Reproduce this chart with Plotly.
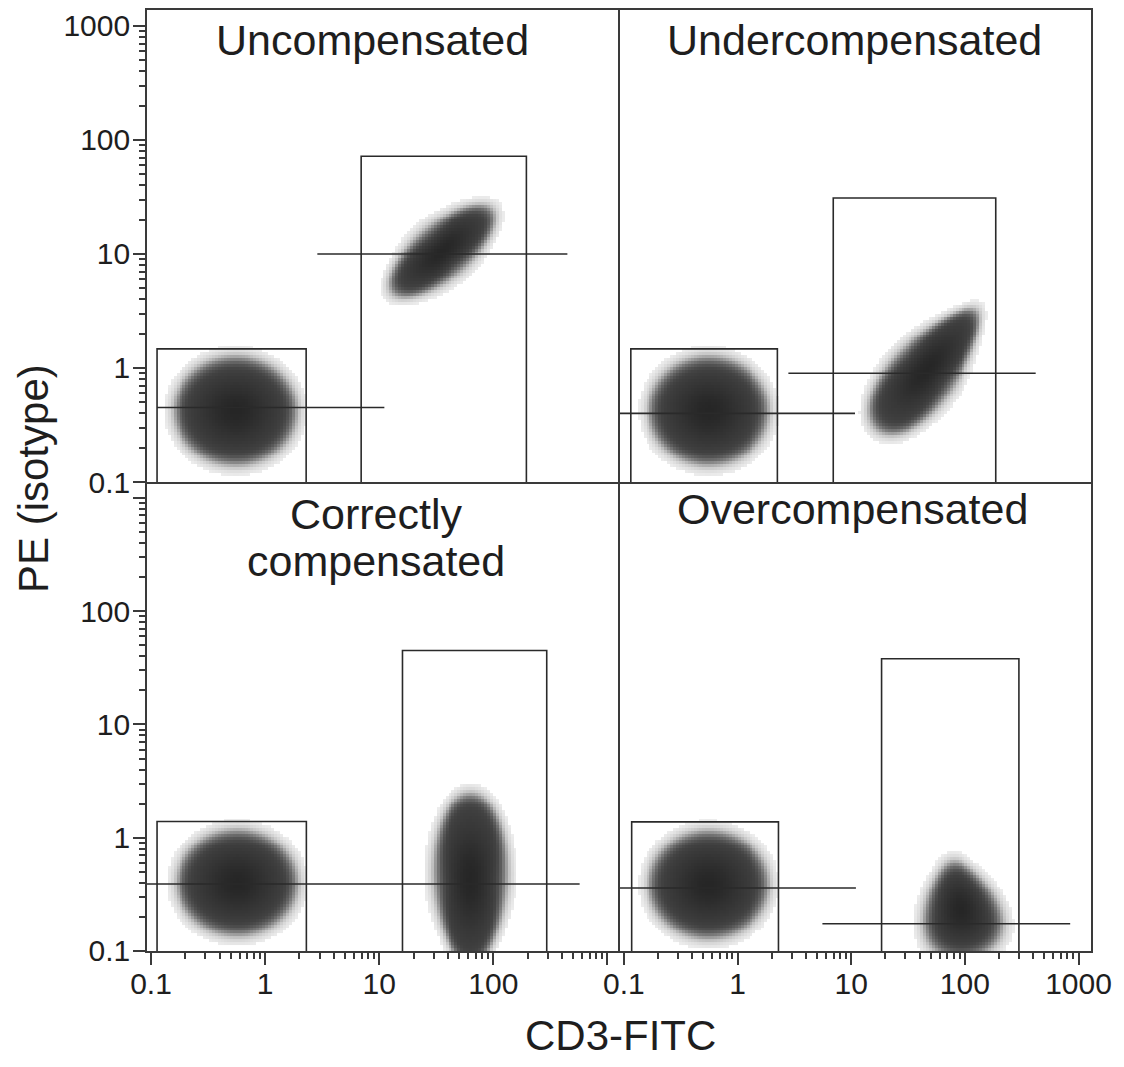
import numpy as np
import plotly.graph_objects as go

# ---------------- data ----------------
panel_titles = ["Uncompensated", "Undercompensated", "Correctly|compensated", "Overcompensated"]

major_ticks = [0.1, 1, 10, 100, 1000]
y_top_labels = ["0.1", "1", "10", "100", "1000"]
y_bottom_labels = ["0.1", "1", "10", "100", ""]
x_left_labels = ["0.1", "1", "10", "100", ""]
x_right_labels = ["0.1", "1", "10", "100", "1000"]
minor_ticks = [m * 10.0 ** e for e in range(-1, 3) for m in range(2, 10)]

# gates (rectangles), one small (negative) and one large (positive) per panel
gate_bottom = 0.1
small_gate_x0 = [0.113, 0.115, 0.113, 0.117]
small_gate_x1 = [2.29, 2.24, 2.30, 2.29]
small_gate_top = [1.47, 1.47, 1.39, 1.38]
big_gate_x0 = [6.95, 6.95, 16.0, 18.5]
big_gate_x1 = [195, 187, 294, 299]
big_gate_top = [72, 31, 45, 38]

# median marker lines
line_panel = [0, 0, 1, 1, 2, 3, 3]
line_y = [0.45, 10.0, 0.40, 0.90, 0.39, 0.36, 0.174]
line_x0 = [0.113, 2.87, 0.0923, 2.8, 0.0923, 0.0923, 5.58]
line_x1 = [11.1, 446, 10.8, 420, 571, 11.0, 845]

# cell populations (centre in data units, half-axes in decades, tilt in degrees)
cloud_panel = [0, 0, 1, 1, 2, 2, 3, 3]
cloud_x = [0.55, 35.7, 0.557, 46.0, 0.57, 63.0, 0.557, 92.0]
cloud_y = [0.42, 10.6, 0.42, 0.96, 0.40, 0.43, 0.385, 0.232]
cloud_major = [0.53, 0.56, 0.52, 0.67, 0.52, 0.75, 0.52, 0.42]
cloud_minor = [0.47, 0.23, 0.47, 0.27, 0.46, 0.31, 0.47, 0.32]
cloud_angle = [0, 40, 0, 50, 0, 90, 0, 100]
cloud_taper = [0.0, 0.0, 0.0, 0.25, 0.0, -0.12, 0.0, 0.35]

# ---------------- figure ----------------
X_RANGE = [-1.035, 3.11]
Y_RANGE = [-1.0, 3.14]
FONT = "Liberation Sans, Arial, Helvetica, sans-serif"
INK = "#1e1e1e"
LINE = "#2a2a2a"
FRAME = "#3a3a3a"

axes_ids = [("x", "y"), ("x2", "y2"), ("x3", "y3"), ("x4", "y4")]

fig = go.Figure()

nx, ny = 160, 160
xe = np.linspace(X_RANGE[0], X_RANGE[1], nx + 1)
ye = np.linspace(Y_RANGE[0], Y_RANGE[1], ny + 1)
xc = (xe[:-1] + xe[1:]) / 2
yc = (ye[:-1] + ye[1:]) / 2
LX, LY = np.meshgrid(xc, yc)

for p, (xa, ya) in enumerate(axes_ids):
    dens = np.zeros_like(LX)
    for i, cp in enumerate(cloud_panel):
        if cp != p:
            continue
        cx, cy = np.log10(cloud_x[i]), np.log10(cloud_y[i])
        th = np.radians(cloud_angle[i])
        a, b = cloud_major[i], cloud_minor[i]
        dx, dy = LX - cx, LY - cy
        u = dx * np.cos(th) + dy * np.sin(th)
        v = -dx * np.sin(th) + dy * np.cos(th)
        bt = b * (1 - cloud_taper[i] * np.clip(u / a, -1, 1))
        r = np.sqrt((u / a) ** 2 + (v / bt) ** 2)
        rho = np.sqrt(u ** 2 + v ** 2)
        excess = rho * (1 - 1 / np.maximum(r, 1e-6))
        edge = 1 / (1 + np.exp(np.clip(excess / 0.034, -50, 50)))
        core = 0.80 + 0.20 * np.exp(-r ** 2 / 0.4)
        dens = np.maximum(dens, edge * core)
    z = [[(float(val) if val >= 0.04 else None) for val in row] for row in dens]
    fig.add_trace(go.Heatmap(
        x=(10 ** xe).tolist(), y=(10 ** ye).tolist(), z=z,
        xaxis=xa, yaxis=ya, zmin=0, zmax=1, zsmooth=False, showscale=False,
        hoverinfo="skip",
        colorscale=[[0, "#f4f4f4"], [0.25, "#c4c4c4"], [0.55, "#7a7a7a"],
                    [0.8, "#434343"], [1, "#262626"]],
    ))

# gates
for p, (xa, ya) in enumerate(axes_ids):
    for gx0, gx1, gt in [(small_gate_x0[p], small_gate_x1[p], small_gate_top[p]),
                         (big_gate_x0[p], big_gate_x1[p], big_gate_top[p])]:
        fig.add_trace(go.Scatter(
            x=[gx0, gx0, gx1, gx1], y=[gate_bottom, gt, gt, gate_bottom],
            mode="lines", line=dict(color=LINE, width=1.6),
            xaxis=xa, yaxis=ya, hoverinfo="skip", showlegend=False))

# median lines
for i, p in enumerate(line_panel):
    xa, ya = axes_ids[p]
    fig.add_trace(go.Scatter(
        x=[line_x0[i], line_x1[i]], y=[line_y[i], line_y[i]],
        mode="lines", line=dict(color=LINE, width=1.6),
        xaxis=xa, yaxis=ya, hoverinfo="skip", showlegend=False))

XDOM_SPLIT = 0.501
YDOM_SPLIT = 0.4984


def make_axis(domain, rng, anchor, show_ticks, labels, standoff=0, mirror=True):
    d = dict(type="log", domain=domain, range=rng, anchor=anchor,
             showgrid=False, zeroline=False, showline=True, mirror=mirror,
             linecolor=FRAME, linewidth=1.6, fixedrange=True)
    if show_ticks:
        d.update(tickmode="array", tickvals=major_ticks, ticktext=labels,
                 ticks="outside", ticklen=12, tickwidth=1.6, tickcolor=FRAME,
                 ticklabelstandoff=standoff,
                 tickfont=dict(family=FONT, size=30, color=INK),
                 minor=dict(tickmode="array", tickvals=minor_ticks, ticks="outside",
                            ticklen=6, tickwidth=1.5, tickcolor=FRAME))
    else:
        d.update(ticks="", showticklabels=False)
    return d


fig.update_layout(
    width=1116, height=1059,
    margin=dict(l=139, r=33, t=0, b=116),
    paper_bgcolor="white", plot_bgcolor="white", showlegend=False,
    xaxis=make_axis([0, XDOM_SPLIT], X_RANGE, "y", False, None, mirror=True),
    yaxis=make_axis([YDOM_SPLIT, 1], Y_RANGE, "x", True, y_top_labels, -3, mirror=False),
    xaxis2=make_axis([XDOM_SPLIT, 1], X_RANGE, "y2", False, None, mirror=True),
    yaxis2=make_axis([YDOM_SPLIT, 1], Y_RANGE, "x2", False, None, mirror=True),
    xaxis3=make_axis([0, XDOM_SPLIT], X_RANGE, "y3", True, x_left_labels, -7, mirror=False),
    yaxis3=make_axis([0, YDOM_SPLIT], Y_RANGE, "x3", True, y_bottom_labels, -3, mirror=False),
    xaxis4=make_axis([XDOM_SPLIT, 1], X_RANGE, "y4", True, x_right_labels, -7, mirror=False),
    yaxis4=make_axis([0, YDOM_SPLIT], Y_RANGE, "x4", False, None, mirror=True),
)

title_font = dict(family=FONT, size=43, color=INK)
label_font = dict(family=FONT, size=42, color=INK)
title_pos = [(0.2384, [0.968]), (0.749, [0.968]), (0.243, [0.4645, 0.414]), (0.7474, [0.4693])]
for p, title in enumerate(panel_titles):
    parts = title.split("|")
    px, pys = title_pos[p]
    for part, py in zip(parts, pys):
        fig.add_annotation(text=part, x=px, y=py, xref="paper", yref="paper",
                           xanchor="center", yanchor="middle", showarrow=False,
                           font=title_font)

fig.add_annotation(text="CD3-FITC", x=0.502, y=-0.0901, xref="paper", yref="paper",
                   xanchor="center", yanchor="middle", showarrow=False, font=label_font)
fig.add_annotation(text="PE (isotype)", x=-0.1197, y=0.5016, xref="paper", yref="paper",
                   xanchor="center", yanchor="middle", showarrow=False, textangle=-90,
                   font=label_font)

fig.write_html("out.html")
